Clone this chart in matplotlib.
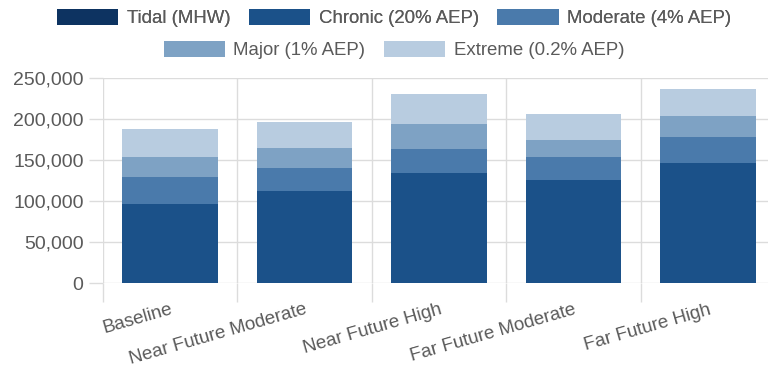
import numpy as np
import matplotlib.pyplot as plt
from matplotlib.patches import Patch
from matplotlib.ticker import FuncFormatter, FixedLocator

categories = ['Baseline', 'Near Future Moderate', 'Near Future High',
              'Far Future Moderate', 'Far Future High']
series_names = ['Tidal (MHW)', 'Chronic (20% AEP)', 'Moderate (4% AEP)',
                'Major (1% AEP)', 'Extreme (0.2% AEP)']
tidal = [0, 0, 0, 0, 0]
chronic = [96500, 112600, 133700, 126000, 146700]
moderate = [32300, 27600, 29300, 27700, 31300]
major = [24900, 24400, 30900, 21100, 26000]
extreme = [34100, 32100, 36600, 30800, 32600]
colors = ['#0d3361', '#1b5189', '#4a7aab', '#7ea2c4', '#b8cce0']

plt.rcParams['font.family'] = ['Liberation Sans', 'DejaVu Sans']
text_color = '#5a5a5a'
grid_color = '#dcdcdc'

fig = plt.figure(figsize=(7.68, 3.68), dpi=100)
ax = fig.add_axes([103 / 768, 1 - 283 / 368, 672 / 768, 205 / 368])

x = np.arange(len(categories))
bottom = np.zeros(len(categories))
for vals, col in zip([tidal, chronic, moderate, major, extreme], colors):
    ax.bar(x, vals, width=0.71, bottom=bottom, color=col, zorder=3)
    bottom += np.array(vals)

ax.set_xlim(-0.5, len(categories) - 0.5)
ax.set_ylim(0, 250000)
ax.set_yticks(np.arange(0, 250001, 50000))
ax.yaxis.set_major_formatter(FuncFormatter(lambda v, p: f'{int(v):,}'))

ax.set_xticks(x)
ax.set_xticklabels(categories, rotation=16, ha='right', va='top',
                   rotation_mode='anchor')
ax.xaxis.set_minor_locator(FixedLocator(np.arange(-0.5, len(categories), 1.0)))
ax.tick_params(axis='x', which='major', length=0, pad=13,
               labelsize=13.5, labelcolor=text_color)
ax.tick_params(axis='x', which='minor', length=14, color=grid_color, width=1)
ax.tick_params(axis='y', length=10, color=grid_color, width=1,
               labelsize=14, labelcolor=text_color, pad=4)

ax.grid(axis='y', color=grid_color, linewidth=1, zorder=0)
ax.grid(axis='x', which='minor', color=grid_color, linewidth=1, zorder=0)
for s in ax.spines.values():
    s.set_visible(False)

handles = [Patch(facecolor=c, edgecolor='none') for c in colors]
leg_kw = dict(frameon=False, fontsize=13.4, handlelength=3.3, handleheight=1.0,
              handletextpad=0.45, columnspacing=1.0, labelcolor=text_color,
              borderaxespad=0)
leg1 = fig.legend(handles[:3], series_names[:3], ncol=3, loc='center',
                  bbox_to_anchor=(0.513, 1 - 18 / 368), **leg_kw)
fig.add_artist(leg1)
fig.legend(handles[3:], series_names[3:], ncol=2, loc='center',
           bbox_to_anchor=(0.513, 1 - 50 / 368), **leg_kw)

fig.savefig('out.png', dpi=100)
